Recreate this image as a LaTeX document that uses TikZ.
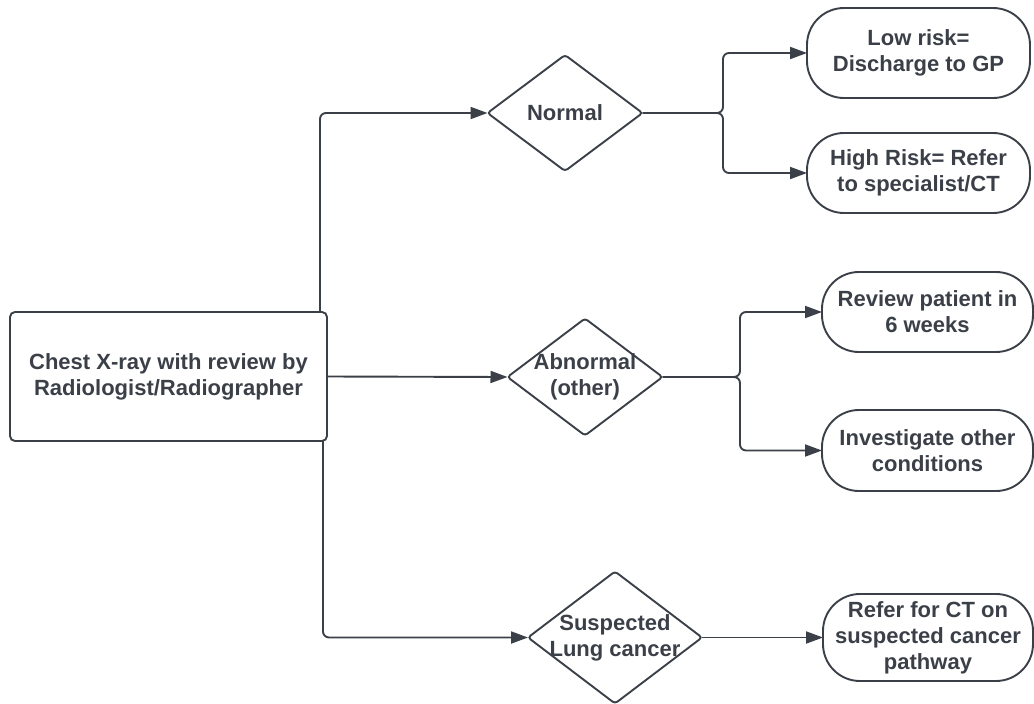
\documentclass[tikz,border=0pt]{standalone}
\usepackage{fontspec}
\setmainfont{Liberation Sans}
\usetikzlibrary{arrows.meta}
\definecolor{ink}{RGB}{59,64,72}
\begin{document}
\begin{tikzpicture}[x=1pt,y=-1pt,
  every node/.style={text=ink,font=\bfseries\fontsize{22}{26}\selectfont,align=center,inner sep=0pt,outer sep=0pt},
  line/.style={draw=ink,line width=1.9pt},
  arr/.style={line,-{Triangle[length=17pt,width=12pt]},rounded corners=6pt},
  mainbox/.style={line,rounded corners=5pt,minimum width=317pt,minimum height=129pt},
  endbox/.style 2 args={line,rounded corners=37pt,minimum width=#1,minimum height=#2},
  decision/.style 2 args={minimum width=#1,minimum height=#2},
  diamondline/.style={line,rounded corners=3pt}
]
\useasboundingbox (0,0) rectangle (1034,704);

% start box
\node[mainbox] (main) at (168.5,376.5) {Chest X-ray with review by\\Radiologist/Radiographer};

% decisions
\node[decision={155pt}{116pt}] (normal) at (565,113) {Normal};
\node[decision={155pt}{117pt}] (abn) at (585,377) {Abnormal\\(other)};
\node[decision={174pt}{132pt}] (susp) at (615,637.5) {Suspected\\Lung cancer};
\foreach \d in {normal,abn,susp}
  \draw[diamondline] (\d.north) -- (\d.east) -- (\d.south) -- (\d.west) -- cycle;

% outcomes
\node[endbox={223pt}{90pt}] (low) at (918.5,53) {Low risk=\\Discharge to GP};
\node[endbox={223pt}{80pt}] (high) at (918.5,173) {High Risk= Refer\\to specialist/CT};
\node[endbox={211pt}{80pt}] (review) at (927.5,312) {Review patient in\\6 weeks};
\node[endbox={211pt}{81pt}] (inv) at (927.5,450.5) {Investigate other\\conditions};
\node[endbox={210pt}{87pt}] (refer) at (928,637.5) {Refer for CT on\\suspected cancer\\pathway};

% junction points
\coordinate (j1) at (723,113);
\coordinate (j2) at (740,377);

% connectors from start box
\draw[arr] ([xshift=-7pt]main.north east) |- (normal.west);
\draw[arr] (main.east) -- (abn.west);
\draw[arr] ([xshift=-4pt]main.south east) |- (susp.west);

% branches
\draw[arr] (normal.east) -- (j1) |- (low.west);
\draw[arr] (normal.east) -- (j1) |- (high.west);
\draw[arr] (abn.east) -- (j2) |- (review.west);
\draw[arr] (abn.east) -- (j2) |- (inv.west);
\draw[arr] (susp.east) -- (refer.west);
\end{tikzpicture}
\end{document}
